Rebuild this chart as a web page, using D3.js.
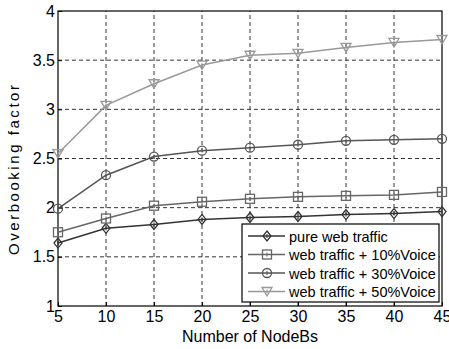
<!DOCTYPE html>
<html>
<head>
<meta charset="UTF-8">
<script src="https://d3js.org/d3.v7.min.js"></script>
<style>
  body { margin: 0; background: #fff; }
  text { font-family: "Liberation Sans", Arial, sans-serif; fill: #000; }
</style>
</head>
<body>
<svg id="chart" width="449" height="349"></svg>
<script>
// data
const nodeBs = [5, 10, 15, 20, 25, 30, 35, 40, 45];
const pureWeb = [1.64, 1.79, 1.83, 1.88, 1.90, 1.91, 1.93, 1.94, 1.96];
const voice10 = [1.75, 1.89, 2.02, 2.06, 2.09, 2.11, 2.12, 2.13, 2.16];
const voice30 = [1.99, 2.33, 2.52, 2.58, 2.61, 2.64, 2.68, 2.69, 2.70];
const voice50 = [2.55, 3.04, 3.26, 3.45, 3.55, 3.57, 3.63, 3.68, 3.71];
const seriesNames = ["pure web traffic", "web traffic + 10%Voice", "web traffic + 30%Voice", "web traffic + 50%Voice"];
const yTicks = [1, 1.5, 2, 2.5, 3, 3.5, 4];

const series = [
  { name: seriesNames[0], values: pureWeb, color: "#333", marker: "diamond" },
  { name: seriesNames[1], values: voice10, color: "#666", marker: "square" },
  { name: seriesNames[2], values: voice30, color: "#555", marker: "circle" },
  { name: seriesNames[3], values: voice50, color: "#999", marker: "triangle" }
];

const svg = d3.select("#chart");
const margin = { left: 58, right: 7, top: 11, bottom: 43 };
const W = 449, H = 349;

const x = d3.scaleLinear().domain([5, 45]).range([margin.left, W - margin.right]);
const y = d3.scaleLinear().domain([1, 4]).range([H - margin.bottom, margin.top]);

// grid
svg.append("g").selectAll("line.gx")
  .data(nodeBs.slice(1, -1)).enter().append("line")
  .attr("x1", d => x(d)).attr("x2", d => x(d))
  .attr("y1", y(1)).attr("y2", y(4))
  .attr("stroke", "#333").attr("stroke-dasharray", "4,3");
svg.append("g").selectAll("line.gy")
  .data(yTicks.slice(1, -1)).enter().append("line")
  .attr("x1", x(5)).attr("x2", x(45))
  .attr("y1", d => y(d)).attr("y2", d => y(d))
  .attr("stroke", "#333").attr("stroke-dasharray", "4,3");

// frame
svg.append("rect")
  .attr("x", x(5)).attr("y", y(4))
  .attr("width", x(45) - x(5)).attr("height", y(1) - y(4))
  .attr("fill", "none").attr("stroke", "#000").attr("stroke-width", 1.2);

// axes
const xAxis = svg.append("g").attr("transform", `translate(0,${y(1)})`)
  .call(d3.axisBottom(x).tickValues(nodeBs).tickSize(0).tickPadding(5));
const yAxis = svg.append("g").attr("transform", `translate(${x(5)},0)`)
  .call(d3.axisLeft(y).tickValues(yTicks).tickFormat(d3.format("")).tickSize(0).tickPadding(3));
[xAxis, yAxis].forEach(a => {
  a.select(".domain").remove();
  a.selectAll("text").style("font-size", "16px").attr("fill", "#000");
});
// inward tick marks
xAxis.selectAll(".tick line").attr("stroke", "#000").attr("y2", -4);
yAxis.selectAll(".tick line").attr("stroke", "#000").attr("x2", 4);

// axis titles
svg.append("text").attr("x", (x(5) + x(45)) / 2).attr("y", 342)
  .attr("text-anchor", "middle").style("font-size", "16px").text("Number of NodeBs");
svg.append("text").attr("transform", `translate(19,170) rotate(-90)`)
  .attr("text-anchor", "middle").style("font-size", "15px")
  .attr("textLength", 170).attr("lengthAdjust", "spacing")
  .text("Overbooking factor");

function drawMarker(g, type, color) {
  if (type === "diamond") {
    g.append("path").attr("d", "M0,-5L4,0L0,5L-4,0Z");
  } else if (type === "square") {
    g.append("rect").attr("x", -4.5).attr("y", -4.5).attr("width", 9).attr("height", 9);
  } else if (type === "circle") {
    g.append("circle").attr("r", 4.5);
  } else {
    g.append("path").attr("d", "M-5,-4L5,-4L0,4.5Z");
  }
  g.selectAll("*").attr("fill", "none").attr("stroke", color).attr("stroke-width", 1.3);
  g.append("line").attr("x1", 0).attr("x2", 0).attr("y1", -2).attr("y2", 2)
    .attr("stroke", color).attr("stroke-width", 1);
}

const line = d3.line().x((d, i) => x(nodeBs[i])).y(d => y(d));
series.forEach(s => {
  svg.append("path").datum(s.values).attr("d", line)
    .attr("fill", "none").attr("stroke", s.color).attr("stroke-width", 1.5);
  s.values.forEach((v, i) => {
    drawMarker(svg.append("g").attr("transform", `translate(${x(nodeBs[i])},${y(v)})`), s.marker, s.color);
  });
});

// legend
const lg = svg.append("g").attr("transform", "translate(242,224)");
lg.append("rect").attr("width", 197).attr("height", 78)
  .attr("fill", "#fff").attr("stroke", "#000").attr("stroke-width", 1.2);
series.forEach((s, i) => {
  const row = lg.append("g").attr("transform", `translate(0,${12 + i * 18.5})`);
  row.append("line").attr("x1", 6).attr("x2", 43).attr("stroke", s.color).attr("stroke-width", 1.5);
  drawMarker(row.append("g").attr("transform", "translate(25,0)"), s.marker, s.color);
  row.append("text").attr("x", 47).attr("y", 5.5).style("font-size", "14.5px").text(s.name);
});
</script>
</body>
</html>
